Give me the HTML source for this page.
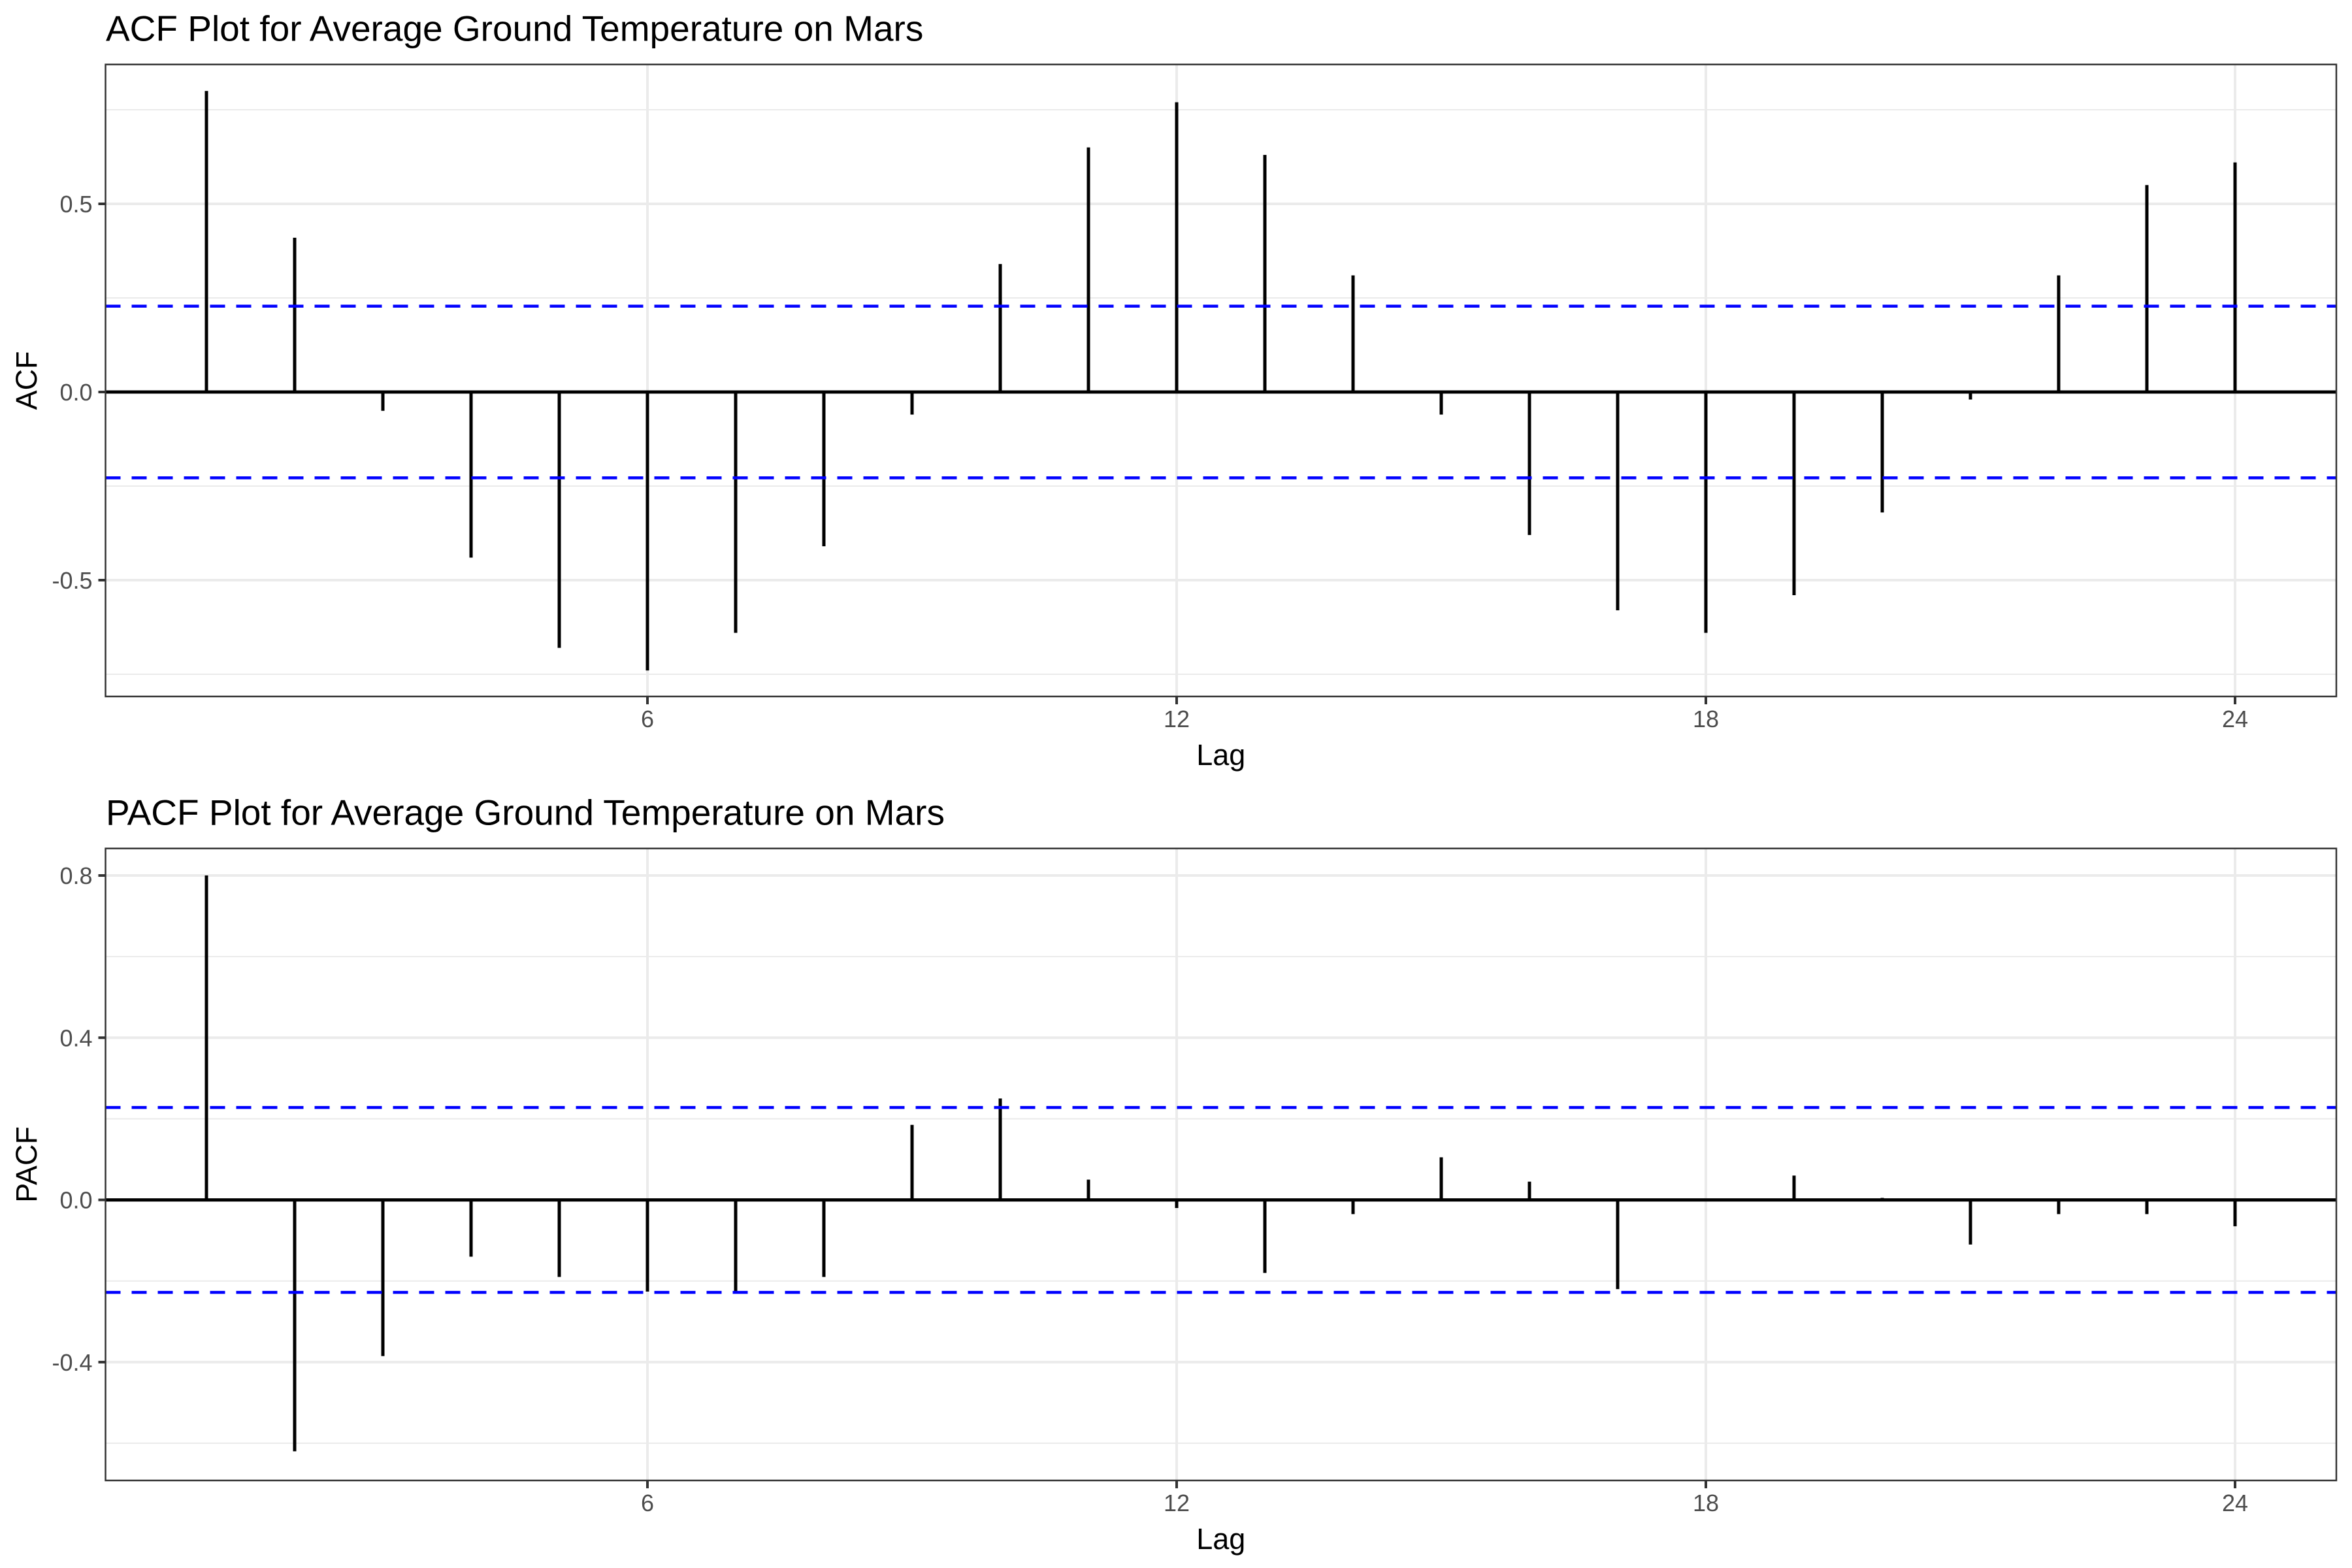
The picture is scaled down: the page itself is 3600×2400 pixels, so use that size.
<!DOCTYPE html>
<html><head><meta charset="utf-8"><style>
html,body{margin:0;padding:0;background:#fff;}
svg{display:block;font-family:"Liberation Sans",Arial,sans-serif;}
</style></head>
<body>
<svg id="chart" width="3600" height="2400" viewBox="0 0 3600 2400" xmlns="http://www.w3.org/2000/svg">
<rect width="3600" height="2400" fill="#fff"/>
</svg>
<script>
const lags = [1,2,3,4,5,6,7,8,9,10,11,12,13,14,15,16,17,18,19,20,21,22,23,24];
const acfValues = [0.80,0.41,-0.05,-0.44,-0.68,-0.74,-0.64,-0.41,-0.06,0.34,0.65,0.77,0.63,0.31,-0.06,-0.38,-0.58,-0.64,-0.54,-0.32,-0.02,0.31,0.55,0.61];
const pacfValues = [0.80,-0.62,-0.385,-0.14,-0.19,-0.226,-0.226,-0.19,0.185,0.25,0.05,-0.02,-0.18,-0.035,0.105,0.045,-0.22,0.0,0.06,0.005,-0.11,-0.035,-0.035,-0.065];
const xTicks = [6,12,18,24];
const acfYTicks = [-0.5,0.0,0.5];
const acfYTickLabels = ["-0.5","0.0","0.5"];
const acfYMinor = [-0.75,-0.25,0.25,0.75];
const pacfYTicks = [-0.4,0.0,0.4,0.8];
const pacfYTickLabels = ["-0.4","0.0","0.4","0.8"];
const pacfYMinor = [-0.6,-0.2,0.2,0.6];
const ciBound = 0.228;

const NS = "http://www.w3.org/2000/svg";
const svg = document.getElementById('chart');
function mk(tag, attrs, parent) {
  const e = document.createElementNS(NS, tag);
  for (const k in attrs) e.setAttribute(k, attrs[k]);
  (parent || svg).appendChild(e);
  return e;
}

function panel(cfg) {
  const g = mk('g', {});
  
  
  const L = 161.5, R = 3576, T = cfg.top, B = cfg.bottom;
  const xs = v => 316 + (v - 1) * 135;
  const ys = v => cfg.zero - v * cfg.unit;

  cfg.minor.forEach(v => {
    const l = mk('line', {x1:L, x2:R, y1:ys(v), y2:ys(v), stroke:'#ebebeb', 'stroke-width':2}, g);
    
    
  });
  cfg.yTicks.forEach(v => {
    const l = mk('line', {x1:L, x2:R, y1:ys(v), y2:ys(v), stroke:'#ebebeb', 'stroke-width':4}, g);
    
    
  });
  xTicks.forEach(v => {
    const l = mk('line', {x1:xs(v), x2:xs(v), y1:T, y2:B, stroke:'#ebebeb', 'stroke-width':4}, g);
    
    
  });
  const z = mk('line', {x1:L, x2:R, y1:ys(0), y2:ys(0), stroke:'#000', 'stroke-width':5}, g);
  
  
  lags.forEach((lag, i) => {
    const s = mk('line', {x1:xs(lag), x2:xs(lag), y1:ys(0), y2:ys(cfg.values[i]), stroke:'#000', 'stroke-width':5}, g);
    
    
  });
  [ciBound, -ciBound].forEach(v => {
    const l = mk('line', {x1:L, x2:R, y1:ys(v), y2:ys(v), stroke:'#0000ff', 'stroke-width':4.5, 'stroke-dasharray':'23 17'}, g);
    
    
  });
  const b = mk('rect', {x:L, y:T, width:R-L, height:B-T, fill:'none', stroke:'#333', 'stroke-width':2.5}, g);
  
  
  cfg.yTicks.forEach((v, i) => {
    const t = mk('line', {x1:L-11, x2:L, y1:ys(v), y2:ys(v), stroke:'#333', 'stroke-width':4}, g);
    
    
    const tx = mk('text', {x:L-20, y:ys(v)+13, 'text-anchor':'end', 'font-size':36, fill:'#4d4d4d'}, g);
    tx.textContent = cfg.yLabels[i];
    
    
  });
  xTicks.forEach(v => {
    const t = mk('line', {x1:xs(v), x2:xs(v), y1:B, y2:B+12, stroke:'#333', 'stroke-width':4}, g);
    
    
    const tx = mk('text', {x:xs(v), y:B+47, 'text-anchor':'middle', 'font-size':36, fill:'#4d4d4d'}, g);
    tx.textContent = String(v);
    
    
  });
  const xt = mk('text', {x:(L+R)/2, y:B+105, 'text-anchor':'middle', 'font-size':45, fill:'#000'}, g);
  xt.textContent = 'Lag';
  
  
  const yc = (T+B)/2;
  const yt = mk('text', {x:56, y:yc, 'text-anchor':'middle', 'font-size':45, fill:'#000', transform:'rotate(-90 56 '+yc+')'}, g);
  yt.textContent = cfg.yTitle;
  
  
  const tt = mk('text', {x:162, y:T-36, 'font-size':55, fill:'#000'}, g);
  tt.textContent = cfg.title;
  
  
}

panel({name:'acf-panel', top:98.7, bottom:1066, zero:600, unit:576, values:acfValues,
  yTicks:acfYTicks, yLabels:acfYTickLabels, minor:acfYMinor, yTitle:'ACF',
  title:'ACF Plot for Average Ground Temperature on Mars'});
panel({name:'pacf-panel', top:1298.7, bottom:2266, zero:1836.6, unit:620.7, values:pacfValues,
  yTicks:pacfYTicks, yLabels:pacfYTickLabels, minor:pacfYMinor, yTitle:'PACF',
  title:'PACF Plot for Average Ground Temperature on Mars'});
</script>
</body></html>
